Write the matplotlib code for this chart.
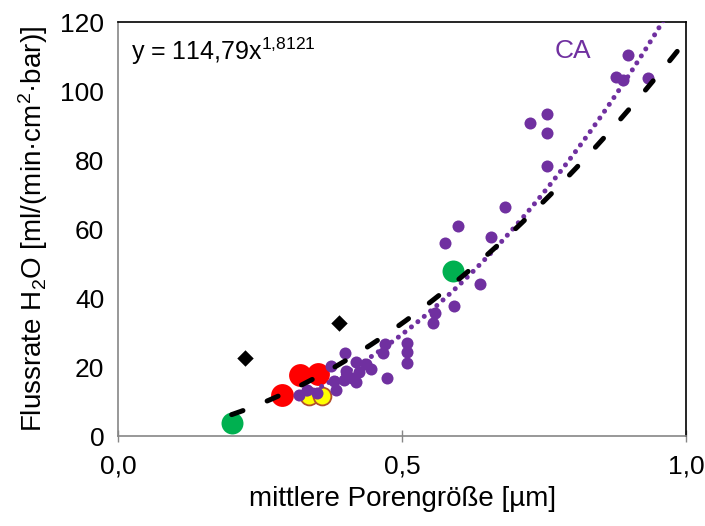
import numpy as np
import matplotlib.pyplot as plt

plt.rcParams['font.family'] = ['Liberation Sans', 'DejaVu Sans']
plt.rcParams['mathtext.fontset'] = 'custom'
plt.rcParams['mathtext.rm'] = 'Liberation Sans'
plt.rcParams['mathtext.it'] = 'Liberation Sans'

# CA membranes (purple)
ca_x = [0.319, 0.333, 0.350, 0.375, 0.380, 0.384, 0.399, 0.401, 0.412, 0.419,
        0.424, 0.436, 0.445, 0.466, 0.469, 0.473, 0.508, 0.508, 0.508, 0.555,
        0.557, 0.592, 0.576, 0.599, 0.637, 0.657, 0.681, 0.725, 0.755, 0.755,
        0.755, 0.877, 0.888, 0.897, 0.933, 0.419, 0.398]
ca_y = [11.9, 13.3, 12.5, 20.3, 15.9, 13.3, 24.1, 18.8, 16.8, 21.4,
        18.6, 20.9, 19.4, 24.1, 26.7, 16.8, 27.0, 24.3, 21.2, 32.8,
        35.7, 37.7, 55.9, 60.9, 44.1, 57.7, 66.4, 90.7, 93.3, 87.8,
        78.3, 104.1, 103.2, 110.4, 103.8, 15.7, 16.2]

# other membranes
green_x = [0.200, 0.590]
green_y = [3.8, 47.8]
red_x = [0.288, 0.320, 0.352]
red_y = [11.8, 17.6, 17.9]
yellow_x = [0.336, 0.359]
yellow_y = [11.6, 11.6]
diamond_x = [0.224, 0.389]
diamond_y = [22.6, 32.8]

# trend lines (power fits)
all_a, all_b = 114.79, 1.8121
ca_a, ca_b = 131.6, 2.157

fig = plt.figure(figsize=(7.05, 5.26), dpi=100)
ax = fig.add_axes([0.1674, 0.171, 0.806, 0.787])

ax.scatter(red_x, red_y, s=270, color='#FF0000', linewidths=0, zorder=2)
ax.scatter(yellow_x, yellow_y, s=165, color='#FFFF00', edgecolors='#B4502A',
           linewidths=1.3, zorder=3)
ax.scatter(ca_x, ca_y, s=75, color='#7030A0', linewidths=0, zorder=4)
ax.scatter(green_x, green_y, s=250, color='#00B050', linewidths=0, zorder=4)
ax.scatter(diamond_x, diamond_y, s=70, marker='D', color='black',
           linewidths=0, zorder=4)

xt = np.linspace(min(green_x), 1.0, 200)
ax.plot(xt, all_a * xt ** all_b, color='black', lw=3.6, dashes=(2.4, 5.2),
        dash_capstyle='round', zorder=6)
xc = np.linspace(min(ca_x), 1.0, 200)
ax.plot(xc, ca_a * xc ** ca_b, color='#7030A0', lw=3.6, dashes=(0.01, 1.65),
        dash_capstyle='round', zorder=5)

ax.set_xlim(0, 1.0)
ax.set_ylim(0, 120)
ax.set_xticks([0, 0.5, 1.0])
ax.set_xticklabels(['0,0', '0,5', '1,0'])
ax.set_yticks(range(0, 121, 20))
ax.tick_params(axis='x', direction='inout', length=8, width=1, color='#868686',
               labelsize=19, pad=9)
ax.tick_params(axis='y', length=0, labelsize=19, pad=10)

for s in ['top', 'right']:
    ax.spines[s].set_color('black')
    ax.spines[s].set_linewidth(1.2)
for s in ['left', 'bottom']:
    ax.spines[s].set_color('#868686')
    ax.spines[s].set_linewidth(1.2)

ax.set_xlabel('mittlere Porengröße [µm]', fontsize=20, labelpad=6)
ax.set_ylabel('Flussrate H$_2$O [ml/(min·cm$^2$·bar)]', fontsize=20, labelpad=7)

ax.text(0.022, 0.93, 'y = 114,79x$^{1{,}8121}$', transform=ax.transAxes,
        fontsize=18, va='center', ha='left')
ax.text(0.80, 0.93, 'CA', transform=ax.transAxes, fontsize=19,
        color='#7030A0', va='center', ha='center')

fig.savefig('out.png', dpi=100)
